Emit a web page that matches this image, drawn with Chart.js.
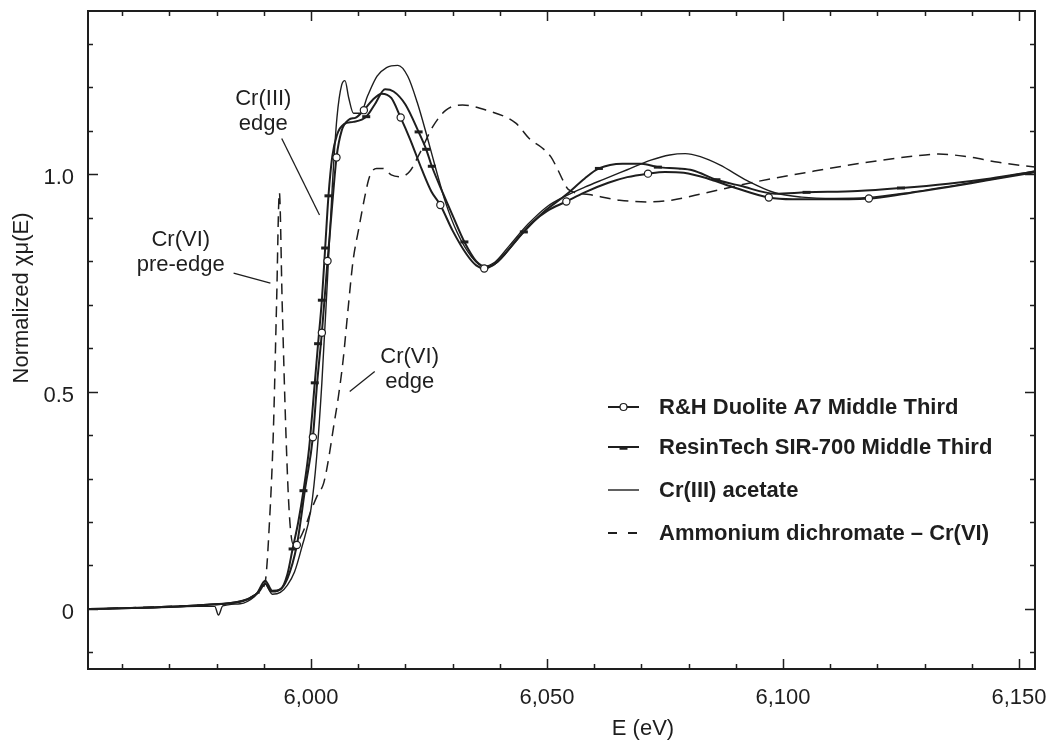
<!DOCTYPE html>
<html>
<head>
<meta charset="utf-8">
<title>Normalized XANES - Cr K edge</title>
<script src="https://cdn.jsdelivr.net/npm/chart.js@4.4.1/dist/chart.umd.min.js"></script>
<style>
  html, body { margin: 0; padding: 0; background: #fff; }
  canvas { display: block; }
</style>
</head>
<body>
<canvas id="xanes" width="1049" height="744"></canvas>
<script>
// ---- data (energy in eV, normalized absorption) ----
const rhEnergy = [5953, 5962, 5970, 5978, 5984, 5987, 5989, 5990.3, 5991.6, 5993, 5995, 5997, 5998.8, 6000.4, 6001.3, 6002.3, 6003.5, 6004.5, 6005.4, 6006.5, 6008, 6009.5, 6011.2, 6013, 6015, 6017, 6019, 6021, 6023.5, 6025.5, 6027.4, 6030, 6033, 6035, 6036.7, 6038.5, 6041, 6044, 6047, 6050, 6054.1, 6058, 6063, 6067, 6071.4, 6075, 6079, 6084, 6090, 6097, 6102, 6108, 6118.2, 6126, 6135, 6143, 6153.4];
const rhMu = [0, 0.002, 0.005, 0.01, 0.015, 0.025, 0.04, 0.058, 0.04, 0.042, 0.07, 0.147, 0.28, 0.395, 0.52, 0.635, 0.80, 0.93, 1.038, 1.10, 1.125, 1.13, 1.147, 1.17, 1.185, 1.175, 1.13, 1.08, 1.01, 0.96, 0.929, 0.87, 0.815, 0.79, 0.783, 0.79, 0.815, 0.855, 0.89, 0.915, 0.937, 0.958, 0.98, 0.993, 1.001, 1.005, 1.003, 0.99, 0.968, 0.946, 0.942, 0.942, 0.944, 0.955, 0.97, 0.985, 1.004];
const rhMarkers = [5997, 6000.4, 6002.3, 6003.5, 6005.4, 6011.2, 6019, 6027.4, 6036.7, 6054.1, 6071.4, 6097, 6118.2];

const resinEnergy = [5953, 5962, 5970, 5978, 5983, 5986, 5988.5, 5990.3, 5991.8, 5993.5, 5995, 5996.1, 5997.3, 5998.4, 5999.6, 6000.8, 6001.5, 6002.3, 6003, 6003.7, 6004.5, 6005.5, 6007, 6009, 6011.7, 6013.5, 6015.7, 6017.5, 6020, 6022.8, 6024.4, 6025.6, 6028, 6030, 6032.5, 6035, 6037.2, 6039.5, 6042, 6045.1, 6049, 6054.1, 6058, 6061, 6066, 6070, 6073.5, 6077.8, 6080.8, 6085.9, 6091, 6098.3, 6105, 6115.8, 6125, 6135, 6144, 6153.4];
const resinMu = [0, 0.002, 0.005, 0.01, 0.014, 0.02, 0.035, 0.065, 0.042, 0.045, 0.08, 0.138, 0.2, 0.272, 0.37, 0.52, 0.61, 0.71, 0.83, 0.95, 1.04, 1.09, 1.115, 1.12, 1.132, 1.16, 1.195, 1.19, 1.16, 1.097, 1.057, 1.018, 0.955, 0.905, 0.844, 0.8, 0.787, 0.798, 0.828, 0.867, 0.91, 0.953, 0.99, 1.013, 1.024, 1.024, 1.016, 1.013, 1.009, 0.987, 0.973, 0.955, 0.958, 0.961, 0.968, 0.978, 0.99, 1.006];
const resinMarkers = [5996.1, 5998.4, 6000.8, 6001.5, 6002.3, 6003, 6003.7, 6011.7, 6022.8, 6024.4, 6025.6, 6032.5, 6045.1, 6061, 6073.5, 6085.9, 6105, 6125];

const acetateEnergy = [5953, 5962, 5970, 5976, 5979.6, 5980.4, 5981.3, 5985, 5988, 5990.3, 5991.8, 5993.5, 5995, 5996.5, 5998, 6000, 6001.2, 6002.3, 6003.5, 6004.5, 6005.5, 6006.5, 6007.2, 6008, 6009, 6010.5, 6012, 6014, 6016, 6018.4, 6020.5, 6022.5, 6024.5, 6026.5, 6028.5, 6031, 6034, 6036.5, 6039, 6042, 6046, 6050, 6054, 6058, 6062, 6067, 6072, 6076, 6079.3, 6082.5, 6086.6, 6092.4, 6098.3, 6104, 6111, 6118, 6127, 6137, 6145, 6153.4];
const acetateMu = [0, 0.002, 0.004, 0.006, 0.006, -0.014, 0.007, 0.012, 0.028, 0.058, 0.034, 0.038, 0.055, 0.085, 0.14, 0.23, 0.35, 0.52, 0.76, 0.97, 1.13, 1.205, 1.215, 1.175, 1.14, 1.14, 1.18, 1.225, 1.245, 1.25, 1.225, 1.165, 1.09, 1.01, 0.935, 0.865, 0.81, 0.788, 0.798, 0.835, 0.885, 0.925, 0.95, 0.97, 0.988, 1.01, 1.032, 1.044, 1.047, 1.04, 1.021, 0.985, 0.957, 0.947, 0.944, 0.946, 0.958, 0.975, 0.99, 1.007];

const dichromateEnergy = [5953, 5965, 5975, 5982, 5986, 5988.5, 5990.3, 5991.2, 5992, 5992.7, 5993.3, 5993.9, 5994.7, 5995.4, 5996.2, 5997.5, 5998.8, 5999.8, 6001.3, 6002.7, 6003.8, 6004.8, 6005.8, 6006.8, 6007.9, 6008.9, 6010.2, 6011.4, 6012.4, 6013.9, 6015.3, 6017, 6018.8, 6020.9, 6023, 6025.8, 6028.6, 6032.1, 6037.1, 6043.4, 6046.4, 6049, 6050.8, 6052.3, 6053.4, 6054.5, 6058.9, 6065.4, 6071.3, 6076.4, 6083.7, 6094.6, 6105.6, 6116.5, 6127.5, 6133, 6138.4, 6145.7, 6153.4];
const dichromateMu = [0, 0.004, 0.008, 0.012, 0.02, 0.035, 0.063, 0.2, 0.4, 0.7, 0.958, 0.7, 0.4, 0.22, 0.15, 0.16, 0.19, 0.22, 0.26, 0.29, 0.35, 0.42, 0.488, 0.572, 0.695, 0.80, 0.879, 0.948, 0.994, 1.013, 1.013, 0.998, 0.994, 1.006, 1.047, 1.109, 1.147, 1.159, 1.147, 1.117, 1.08, 1.06, 1.04, 1.01, 0.985, 0.965, 0.953, 0.94, 0.936, 0.94, 0.957, 0.983, 1.005, 1.025, 1.041, 1.046, 1.041, 1.027, 1.016];

const xTicks = [6000, 6050, 6100, 6150];
const yTicks = [0, 0.5, 1.0];

const seriesLabels = [
    'R&H Duolite A7 Middle Third',
    'ResinTech SIR-700 Middle Third',
    'Cr(III) acetate',
    'Ammonium dichromate \u2013 Cr(VI)'
];

// ---- look ----
const INK = '#1e1e1e';
const FONT = '"Liberation Sans", Arial, Helvetica, sans-serif';

const X_MIN = 5952.75, X_MAX = 6153.4;
const Y_MIN = -0.138, Y_MAX = 1.375;

// callouts, anchored in data coordinates
const callouts = [
    { text: ['Cr(III)', 'edge'], at: [5989.9, 1.172], from: [5993.8, 1.082], to: [6001.8, 0.906] },
    { text: ['Cr(VI)', 'pre-edge'], at: [5972.4, 0.848], from: [5983.6, 0.772], to: [5991.4, 0.749] },
    { text: ['Cr(VI)', 'edge'], at: [6020.9, 0.579], from: [6013.5, 0.546], to: [6008.2, 0.5] }
];

function toPoints(xs, ys) {
    return xs.map((e, i) => ({ x: e, y: ys[i] }));
}

// keep the plot box where it is in the original, whatever the tick label sizes
function noScalePadding(s) {
    s.paddingTop = 0;
    s.paddingBottom = 0;
    s.paddingLeft = 0;
    s.paddingRight = 0;
}

/**
 * Frame, inward ticks, axis titles, callouts and legend
 */
const decorations = {
    id: 'decorations',
    afterDatasetsDraw(chart) {
        const { ctx, chartArea: a, scales: { x, y } } = chart;
        ctx.save();

        // frame
        ctx.strokeStyle = INK;
        ctx.lineWidth = 2;
        ctx.strokeRect(a.left, a.top, a.right - a.left, a.bottom - a.top);

        // ticks on all four sides, pointing in
        ctx.lineWidth = 1.5;
        ctx.beginPath();
        for (let e = 5960; e <= X_MAX; e += 10) {
            const px = Math.round(x.getPixelForValue(e)) + 0.5;
            const len = e % 50 === 0 ? 10 : 5;
            ctx.moveTo(px, a.bottom); ctx.lineTo(px, a.bottom - len);
            ctx.moveTo(px, a.top); ctx.lineTo(px, a.top + len);
        }
        for (let i = -1; i <= 13; i++) {
            const py = Math.round(y.getPixelForValue(i / 10)) + 0.5;
            const len = i % 5 === 0 ? 10 : 5;
            ctx.moveTo(a.left, py); ctx.lineTo(a.left + len, py);
            ctx.moveTo(a.right, py); ctx.lineTo(a.right - len, py);
        }
        ctx.stroke();

        // axis titles
        ctx.fillStyle = INK;
        ctx.font = '22px ' + FONT;
        ctx.textAlign = 'center';
        ctx.textBaseline = 'middle';
        ctx.fillText('E (eV)', 643, 729);
        ctx.save();
        ctx.translate(22, 298);
        ctx.rotate(-Math.PI / 2);
        ctx.fillText('Normalized \u03c7\u03bc(E)', 0, 0);
        ctx.restore();

        // callouts
        ctx.lineWidth = 1.3;
        callouts.forEach(c => {
            const cx = x.getPixelForValue(c.at[0]);
            const cy = y.getPixelForValue(c.at[1]);
            c.text.forEach((t, i) => ctx.fillText(t, cx, cy + i * 25));
            ctx.beginPath();
            ctx.moveTo(x.getPixelForValue(c.from[0]), y.getPixelForValue(c.from[1]));
            ctx.lineTo(x.getPixelForValue(c.to[0]), y.getPixelForValue(c.to[1]));
            ctx.stroke();
        });

        // legend
        const rows = [407, 447, 490, 533];
        const x0 = 608, x1 = 639, xm = (x0 + x1) / 2;
        ctx.font = 'bold 22px ' + FONT;
        ctx.textAlign = 'left';
        chart.data.datasets.forEach((ds, i) => {
            const ry = rows[i];
            ctx.strokeStyle = INK;
            ctx.lineWidth = i === 2 ? 1.4 : 2;
            ctx.setLineDash(i === 3 ? [9, 11] : []);
            ctx.beginPath();
            ctx.moveTo(x0, ry); ctx.lineTo(x1, ry);
            ctx.stroke();
            ctx.setLineDash([]);
            if (i === 0) {
                ctx.beginPath();
                ctx.arc(xm, ry, 3.5, 0, Math.PI * 2);
                ctx.fillStyle = '#fff';
                ctx.fill();
                ctx.lineWidth = 1.2;
                ctx.stroke();
            } else if (i === 1) {
                ctx.lineWidth = 3.5;
                ctx.beginPath();
                ctx.moveTo(xm - 4, ry + 1); ctx.lineTo(xm + 4, ry + 1);
                ctx.stroke();
            }
            ctx.fillStyle = INK;
            ctx.fillText(ds.label, 659, ry + 1);
        });

        ctx.restore();
    }
};

function initChart() {
    const ctx = document.getElementById('xanes').getContext('2d');

    new Chart(ctx, {
        type: 'line',
        data: {
            datasets: [{
                label: seriesLabels[0],
                data: toPoints(rhEnergy, rhMu),
                borderColor: INK,
                borderWidth: 2,
                pointStyle: 'circle',
                pointRadius: c => rhMarkers.includes(c.raw.x) ? 3.6 : 0,
                pointBackgroundColor: '#fff',
                pointBorderColor: INK,
                pointBorderWidth: 1.2
            }, {
                label: seriesLabels[1],
                data: toPoints(resinEnergy, resinMu),
                borderColor: INK,
                borderWidth: 2,
                pointStyle: 'line',
                pointRadius: c => resinMarkers.includes(c.raw.x) ? 4 : 0,
                pointBorderColor: INK,
                pointBorderWidth: 3
            }, {
                label: seriesLabels[2],
                data: toPoints(acetateEnergy, acetateMu),
                borderColor: INK,
                borderWidth: 1.4,
                pointRadius: 0
            }, {
                label: seriesLabels[3],
                data: toPoints(dichromateEnergy, dichromateMu),
                borderColor: INK,
                borderWidth: 1.5,
                borderDash: [11, 7],
                pointRadius: 0
            }]
        },
        options: {
            responsive: false,
            animation: false,
            events: [],
            parsing: false,
            layout: { padding: { top: 11, right: 14, left: 0, bottom: 0 } },
            elements: {
                line: { cubicInterpolationMode: 'monotone', fill: false }
            },
            plugins: {
                legend: { display: false },
                tooltip: { enabled: false }
            },
            scales: {
                x: {
                    type: 'linear',
                    min: X_MIN,
                    max: X_MAX,
                    grid: { display: false, drawTicks: false },
                    border: { display: false },
                    afterBuildTicks: s => { s.ticks = xTicks.map(v => ({ value: v })); },
                    afterFit: s => { s.height = 75; noScalePadding(s); },
                    ticks: {
                        padding: 16,
                        maxRotation: 0,
                        color: INK,
                        font: { family: FONT, size: 22 },
                        callback: v => v.toLocaleString('en-US')
                    }
                },
                y: {
                    type: 'linear',
                    min: Y_MIN,
                    max: Y_MAX,
                    grid: { display: false, drawTicks: false },
                    border: { display: false },
                    afterBuildTicks: s => { s.ticks = yTicks.map(v => ({ value: v })); },
                    afterFit: s => { s.width = 88; noScalePadding(s); },
                    ticks: {
                        padding: 14,
                        labelOffset: 4,
                        color: INK,
                        font: { family: FONT, size: 22 },
                        callback: v => v === 0 ? '0' : v.toFixed(1)
                    }
                }
            }
        },
        plugins: [decorations]
    });
}

document.addEventListener('DOMContentLoaded', initChart);
</script>
</body>
</html>
